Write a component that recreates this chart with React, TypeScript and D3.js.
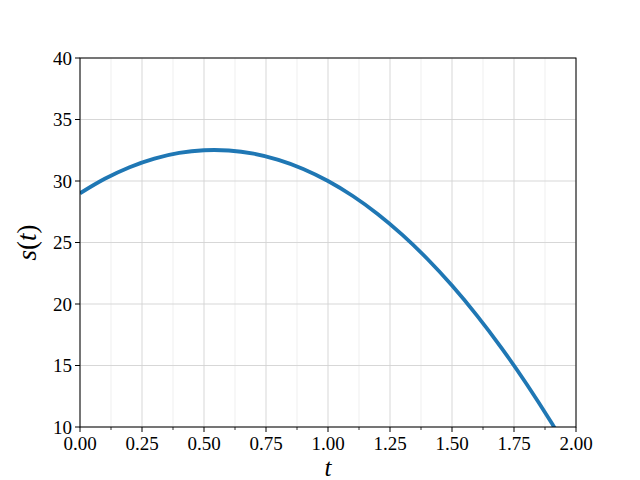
import * as React from "react";
import * as d3 from "d3";

// values
const tValues = [0, 0.1, 0.2, 0.3, 0.4, 0.5, 0.6, 0.7, 0.8, 0.9, 1.0, 1.1, 1.2, 1.3, 1.4, 1.5, 1.6, 1.7, 1.8, 1.9, 2.0];
const sValues = [29.0, 30.18, 31.12, 31.82, 32.28, 32.5, 32.48, 32.22, 31.72, 30.98, 30.0, 28.78, 27.32, 25.62, 23.68, 21.5, 19.08, 16.42, 13.52, 10.38, 7.0];
const xTicks = [0, 0.25, 0.5, 0.75, 1.0, 1.25, 1.5, 1.75, 2.0];
const xMinorTicks = [0.125, 0.375, 0.625, 0.875, 1.125, 1.375, 1.625, 1.875];
const yTicks = [10, 15, 20, 25, 30, 35, 40];

export default function App() {
  const width = 640, height = 480;
  const margin = { top: 58, right: 64, bottom: 53, left: 80 };
  const iw = width - margin.left - margin.right;
  const ih = height - margin.top - margin.bottom;

  const x = d3.scaleLinear().domain([0, 2]).range([0, iw]);
  const y = d3.scaleLinear().domain([10, 40]).range([ih, 0]);

  const pts = tValues.map((t, i) => [t, sValues[i]] as [number, number]);
  const line = d3.line<[number, number]>()
    .x(d => x(d[0]))
    .y(d => y(d[1]))
    .curve(d3.curveCatmullRom);

  const font = "'Liberation Serif', 'DejaVu Serif', serif";

  return (
    <svg width={width} height={height} style={{ position: "absolute", left: 0, top: 0 }}>
      <rect width={width} height={height} fill="#fff" />
      <defs>
        <clipPath id="plot">
          <rect x={0} y={0} width={iw} height={ih} />
        </clipPath>
      </defs>
      <g transform={`translate(${margin.left},${margin.top})`}>
        {/* minor grid */}
        {xMinorTicks.map(t => (
          <line key={"m" + t} x1={x(t)} x2={x(t)} y1={0} y2={ih} stroke="#ebebeb" strokeWidth={0.8} />
        ))}
        {/* major grid */}
        {xTicks.map(t => (
          <line key={"gx" + t} x1={x(t)} x2={x(t)} y1={0} y2={ih} stroke="#d3d3d3" strokeWidth={0.9} />
        ))}
        {yTicks.map(v => (
          <line key={"gy" + v} x1={0} x2={iw} y1={y(v)} y2={y(v)} stroke="#d3d3d3" strokeWidth={0.9} />
        ))}

        <path d={line(pts) || ""} fill="none" stroke="#1f77b4" strokeWidth={3.8} clipPath="url(#plot)" />

        <rect x={0} y={0} width={iw} height={ih} fill="none" stroke="#000" strokeWidth={1} />

        {/* x ticks */}
        {xTicks.map(t => (
          <g key={"tx" + t} transform={`translate(${x(t)},${ih})`}>
            <line y1={0} y2={5} stroke="#000" strokeWidth={1} />
            <text y={23} textAnchor="middle" fontFamily={font} fontSize={19}>{t.toFixed(2)}</text>
          </g>
        ))}
        {xMinorTicks.map(t => (
          <line key={"mt" + t} x1={x(t)} x2={x(t)} y1={ih} y2={ih + 3} stroke="#000" strokeWidth={0.8} />
        ))}
        {/* y ticks */}
        {yTicks.map(v => (
          <g key={"ty" + v} transform={`translate(0,${y(v)})`}>
            <line x1={0} x2={-5} stroke="#000" strokeWidth={1} />
            <text x={-8} dy="0.35em" textAnchor="end" fontFamily={font} fontSize={19}>{v}</text>
          </g>
        ))}

        <text x={iw / 2} y={ih + 49} textAnchor="middle" fontFamily={font} fontStyle="italic" fontSize={25}>t</text>
        <text transform={`translate(-44,${ih / 2}) rotate(-90)`} textAnchor="middle" fontFamily={font} fontSize={27}>
          <tspan fontStyle="italic">s</tspan>(<tspan fontStyle="italic">t</tspan>)
        </text>
      </g>
    </svg>
  );
}
